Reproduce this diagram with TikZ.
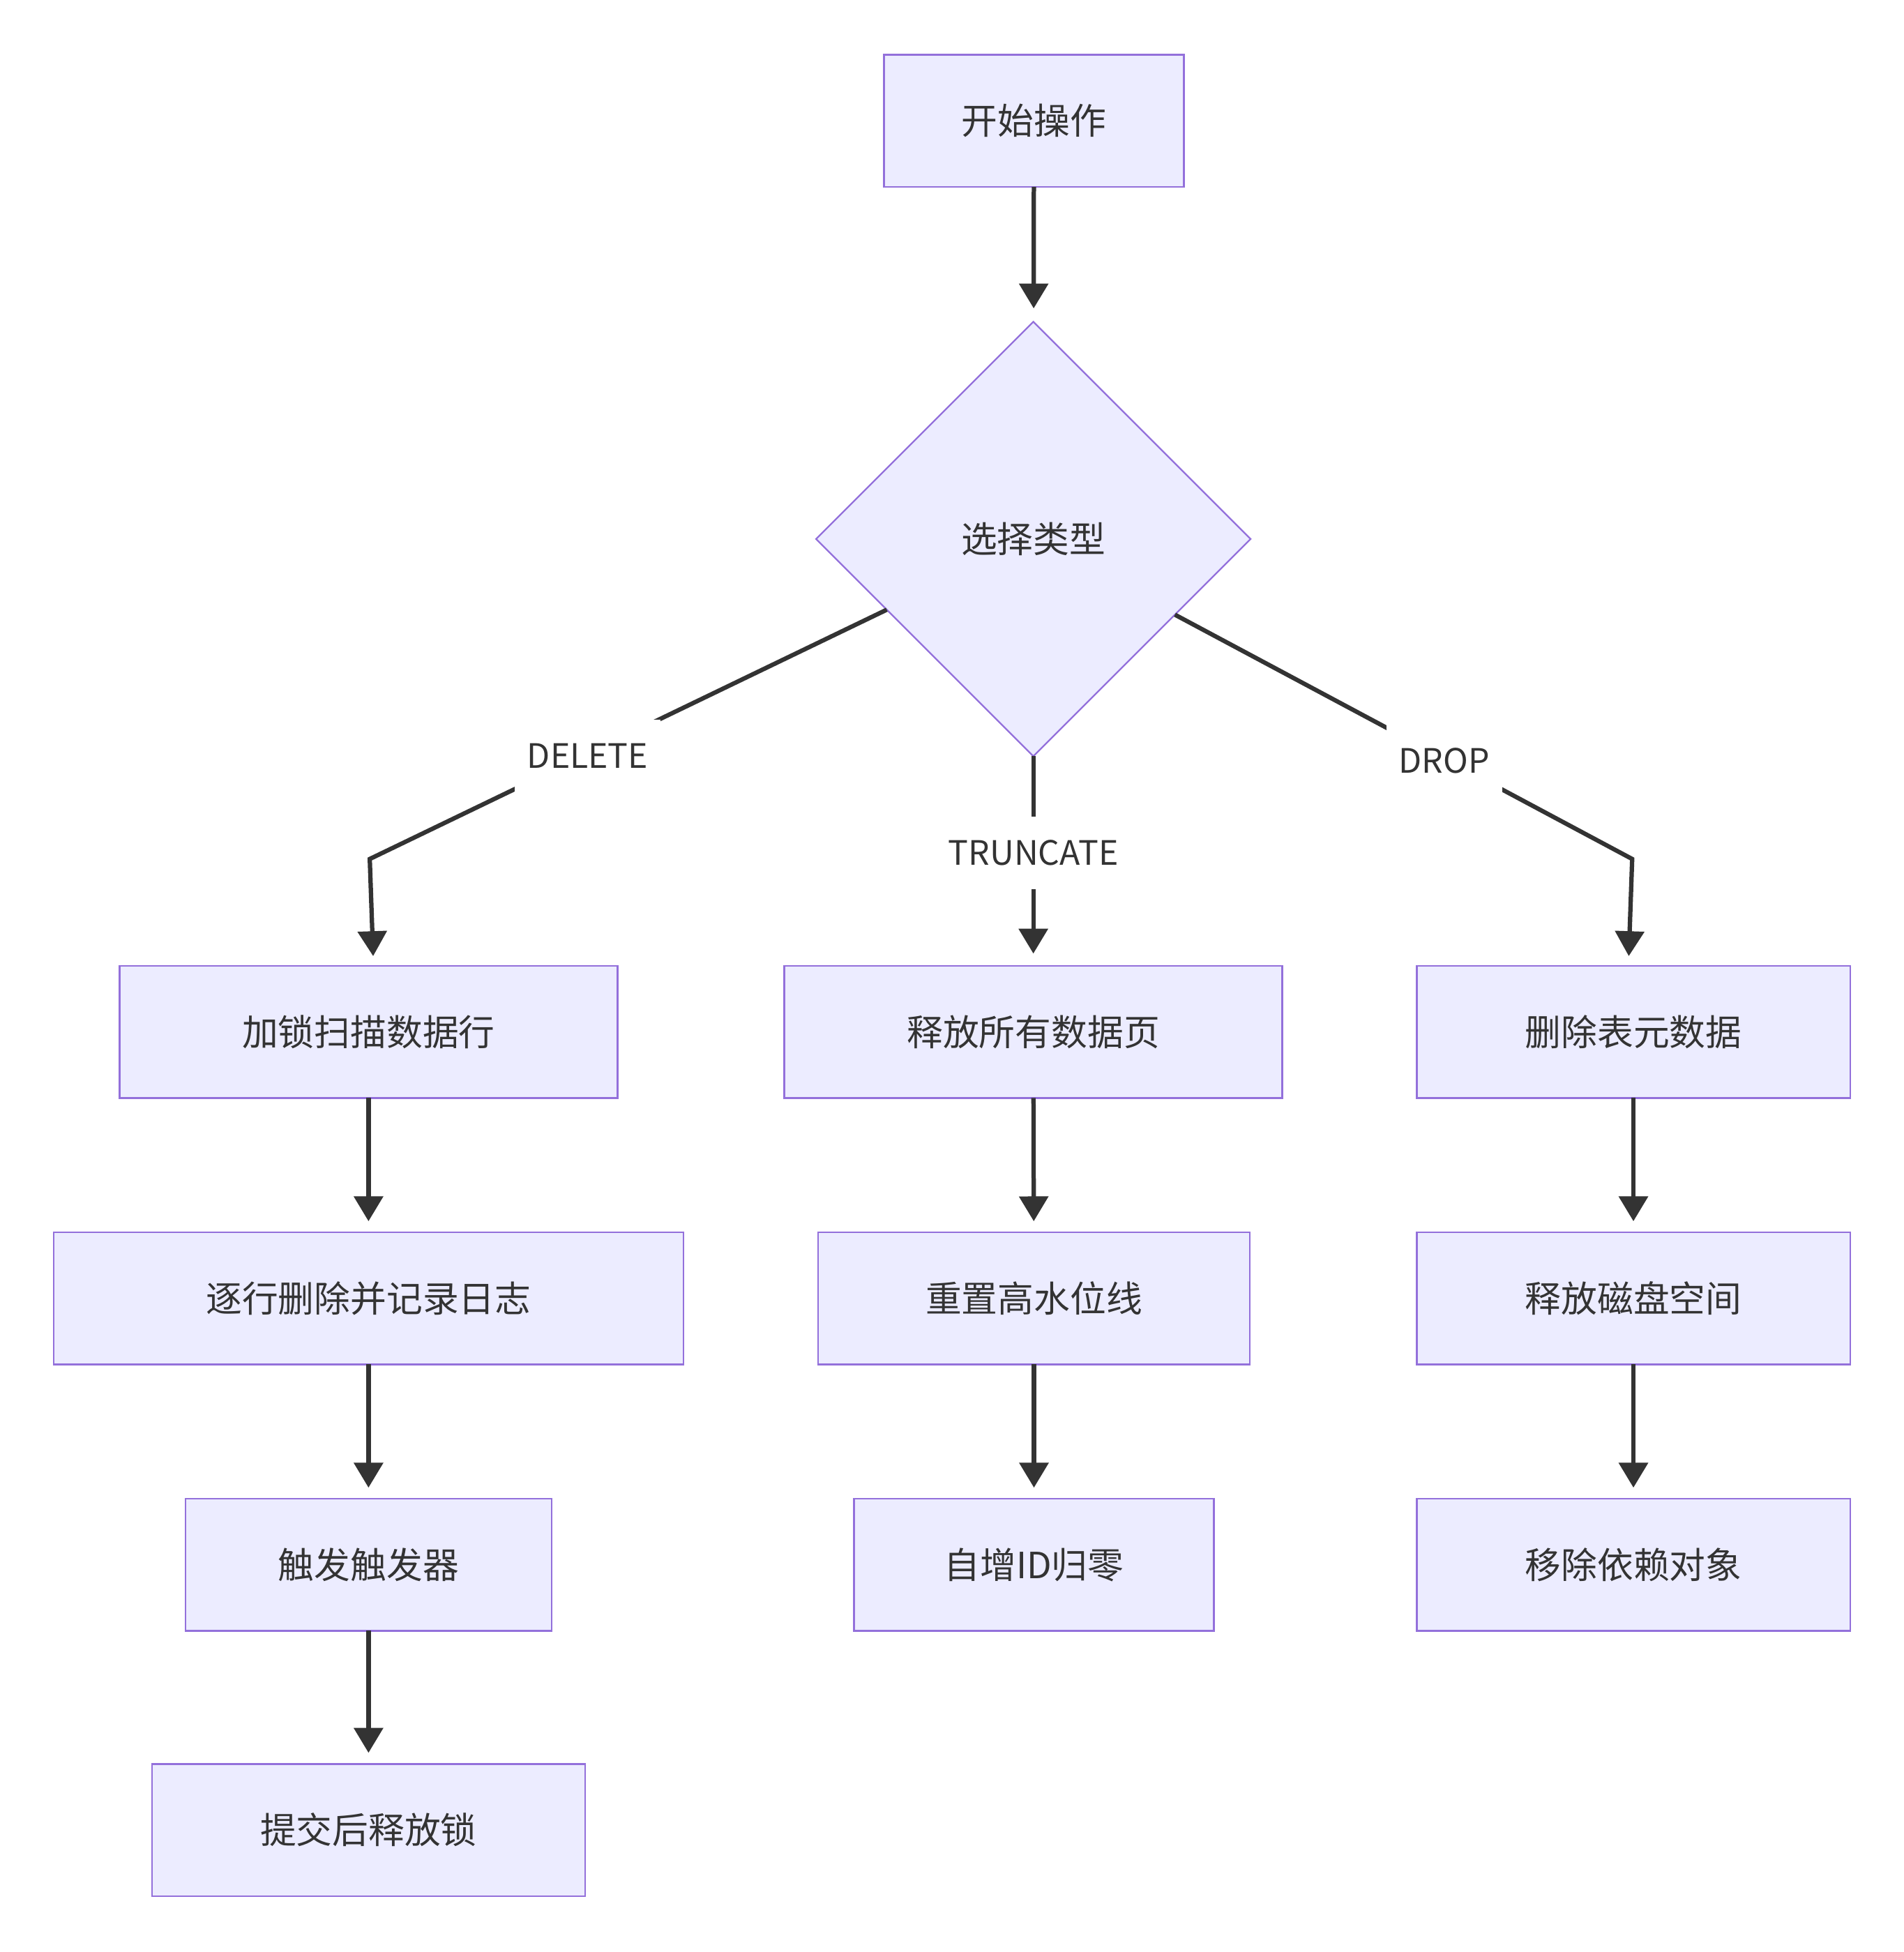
\documentclass[tikz,border=0pt]{standalone}
\usepackage{fontspec}
\setmainfont{Noto Sans CJK SC}
\usetikzlibrary{shapes.geometric,arrows.meta}
\definecolor{nodefill}{HTML}{ECECFF}
\definecolor{nodeline}{HTML}{9370DB}
\definecolor{ink}{HTML}{333333}
\begin{document}
\begin{tikzpicture}[x=1pt,y=-1pt,
  boxnode/.style={draw=nodeline,fill=nodefill,line width=1.3pt,minimum height=106pt,inner sep=0pt,outer sep=0pt,text=ink,font=\fontsize{29}{35}\selectfont},
  decide/.style={diamond,draw=nodeline,fill=nodefill,line width=1.3pt,minimum width=349pt,minimum height=349pt,inner sep=0pt,outer sep=0pt,text=ink,font=\fontsize{29}{35}\selectfont},
  lbl/.style={fill=white,inner xsep=10pt,inner ysep=0pt,minimum height=58pt,text=ink,font=\fontsize{27}{30}\selectfont},
  conn/.style={draw=ink,line width=3.5pt,-{Triangle[length=20pt,width=23pt]}},
  plain/.style={draw=ink,line width=3.5pt}]
\useasboundingbox (0,0) rectangle (1529,1568);
% nodes
\node[boxnode,minimum width=241pt] (s) at (830.5,97) {开始操作};
\node[decide] (d) at (830,433) {选择类型};
\node[boxnode,minimum width=400pt] (l1) at (296,829) {加锁扫描数据行};
\node[boxnode,minimum width=506pt] (l2) at (296,1043) {逐行删除并记录日志};
\node[boxnode,minimum width=294pt] (l3) at (296,1257) {触发触发器};
\node[boxnode,minimum width=348pt] (l4) at (296,1470) {提交后释放锁};
\node[boxnode,minimum width=400pt] (m1) at (830,829) {释放所有数据页};
\node[boxnode,minimum width=347pt] (m2) at (830.5,1043) {重置高水位线};
\node[boxnode,minimum width=289pt] (m3) at (830.5,1257) {自增ID归零};
\node[boxnode,minimum width=348pt] (r1) at (1312,829) {删除表元数据};
\node[boxnode,minimum width=348pt] (r2) at (1312,1043) {释放磁盘空间};
\node[boxnode,minimum width=348pt] (r3) at (1312,1257) {移除依赖对象};
\coordinate (bl) at (297,690);
\coordinate (br) at (1311,690);
% connectors
\draw[conn,shorten >=11pt] (s) -- (d);
\draw[conn,shorten >=8pt] (d) -- (bl) -- ([xshift=4pt]l1.north);
\draw[conn,shorten >=10pt] (d) -- (m1);
\draw[conn,shorten >=8pt] (d) -- (br) -- ([xshift=-4pt]r1.north);
\draw[conn,shorten >=9pt] (l1) -- (l2);
\draw[conn,shorten >=9pt] (l2) -- (l3);
\draw[conn,shorten >=9pt] (l3) -- (l4);
\draw[conn,shorten >=9pt] (m1) -- (m2);
\draw[conn,shorten >=9pt] (m2) -- (m3);
\draw[conn,shorten >=9pt] (r1) -- (r2);
\draw[conn,shorten >=9pt] (r2) -- (r3);
% labels
\node[lbl] (ld) at (472,607) {DELETE};
\node[lbl] (lt) at (830,685) {TRUNCATE};
\node[lbl] (lr) at (1160,611) {DROP};
\end{tikzpicture}
\end{document}
